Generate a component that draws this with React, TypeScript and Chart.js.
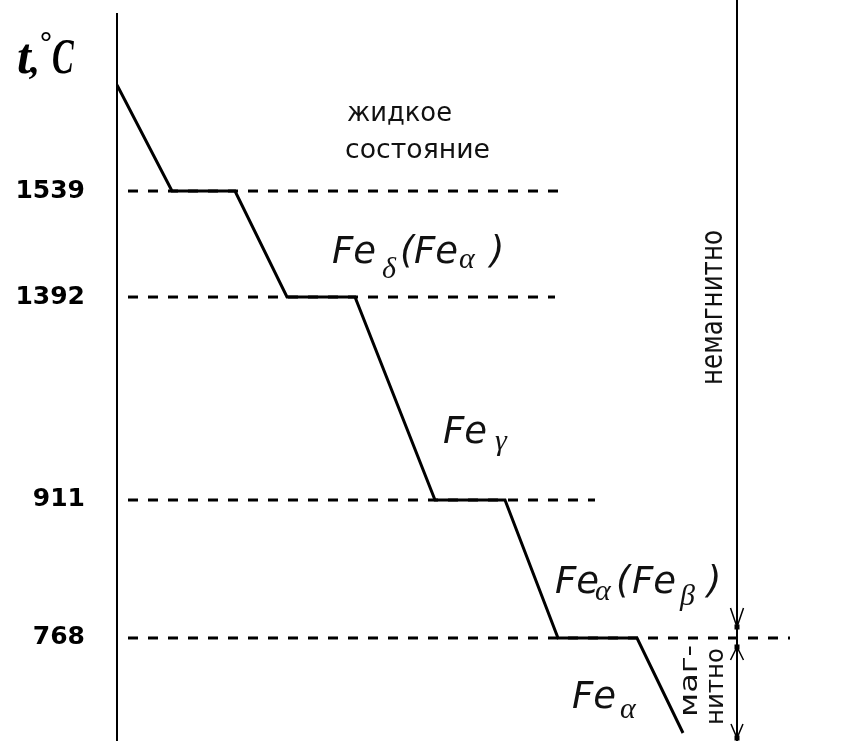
import React, { useEffect, useRef } from "react";
import { Chart, registerables, LinearScale } from "chart.js";

// ---- data (cooling curve of pure iron, schematic) ----
const tempTicks = [1539, 1392, 911, 768];
const curveTimes = [0, 5.5, 11.8, 17.0, 23.8, 31.8, 38.8, 44.1, 52.0, 56.6];
const curveTemps = [1650, 1539, 1539, 1392, 1392, 911, 911, 768, 768, 700];
const guideStart = 1.1;
const guideEnds = [44.3, 43.8, 47.8, 67.3];
const boundaryTime = 62.0;
const boundaryTemps = [1800, 600];

// schematic (non-proportional) vertical placement of temperatures
const scaleTemps = [1650, 1539, 1392, 911, 768, 700];
const scaleFracs = [0.0977, 0.2435, 0.3893, 0.6685, 0.8583, 0.989];

function tempToFrac(v: number) {
  const n = scaleTemps.length;
  let i = 0;
  if (v >= scaleTemps[0]) i = 0;
  else if (v <= scaleTemps[n - 1]) i = n - 2;
  else {
    for (i = 0; i < n - 1; i++) if (v <= scaleTemps[i] && v >= scaleTemps[i + 1]) break;
  }
  const t0 = scaleTemps[i], t1 = scaleTemps[i + 1];
  const f0 = scaleFracs[i], f1 = scaleFracs[i + 1];
  return f0 + ((v - t0) / (t1 - t0)) * (f1 - f0);
}
function fracToTemp(f: number) {
  const n = scaleFracs.length;
  let i = 0;
  if (f <= scaleFracs[0]) i = 0;
  else if (f >= scaleFracs[n - 1]) i = n - 2;
  else {
    for (i = 0; i < n - 1; i++) if (f >= scaleFracs[i] && f <= scaleFracs[i + 1]) break;
  }
  const t0 = scaleTemps[i], t1 = scaleTemps[i + 1];
  const f0 = scaleFracs[i], f1 = scaleFracs[i + 1];
  return t0 + ((f - f0) / (f1 - f0)) * (t1 - t0);
}

class SchematicScale extends LinearScale {
  static id = "schematic";
  getPixelForValue(value: any) {
    if (value === null || value === undefined || isNaN(value)) return NaN;
    return this.top + tempToFrac(+value) * (this.bottom - this.top);
  }
  getValueForPixel(pixel: number) {
    return fracToTemp((pixel - this.top) / (this.bottom - this.top));
  }
}

Chart.register(...registerables, SchematicScale);

// ---- annotations ----
const mainFont = 'italic 37px "DejaVu Sans"';
const subFont = 'italic 30px "Liberation Serif"';
type Part = [string, number, number, "m" | "s"];
const phaseLabels: { x: number; y: number; parts: Part[] }[] = [
  { x: 21.5, y: 1439, parts: [["Fe", 0, 0, "m"], ["δ", 50, 15, "s"], ["(", 68, 0, "m"], ["Fe", 82, 0, "m"], ["α", 127, 5, "s"], [")", 158, 0, "m"]] },
  { x: 32.6, y: 1046, parts: [["Fe", 0, 0, "m"], ["γ", 52, 7, "s"]] },
  { x: 43.8, y: 815, parts: [["Fe", 0, 0, "m"], ["α", 40, 7, "s"], ["(", 61, 0, "m"], ["Fe", 77, 0, "m"], ["β", 125, 12, "s"], [")", 152, 0, "m"]] },
  { x: 45.5, y: 718, parts: [["Fe", 0, 0, "m"], ["α", 48, 10, "s"]] },
];
const plainLabels = [
  { text: "жидкое", x: 23.0, y: 1612, w: 105, font: '26px "DejaVu Sans"', rot: 0 },
  { text: "состояние", x: 22.8, y: 1574, w: 145, font: '26px "DejaVu Sans"', rot: 0 },
  { text: "немагнитно", x: 60.5, y: 1183.5, w: 155, font: '30px "DejaVu Sans"', rot: -Math.PI / 2 },
  { text: "маг-", x: 58.0, y: 711.5, w: 72, font: '25px "DejaVu Sans"', rot: -Math.PI / 2 },
  { text: "нитно", x: 60.6, y: 705.7, w: 77, font: '25px "DejaVu Sans"', rot: -Math.PI / 2 },
];

const annotPlugin = {
  id: "annot",
  afterDatasetsDraw(chart: any) {
    const { ctx, scales, chartArea } = chart;
    const xs = scales.x, ys = scales.y;
    ctx.save();
    ctx.fillStyle = "#111";
    ctx.strokeStyle = "#000";
    ctx.textBaseline = "alphabetic";
    ctx.textAlign = "left";

    // phase labels
    for (const lab of phaseLabels) {
      const px = xs.getPixelForValue(lab.x);
      const py = ys.getPixelForValue(lab.y);
      for (const [t, dx, dy, f] of lab.parts) {
        ctx.font = f === "m" ? mainFont : subFont;
        ctx.fillText(t, px + dx, py + dy);
      }
    }
    // plain labels (fit to width)
    for (const lab of plainLabels) {
      const px = xs.getPixelForValue(lab.x);
      const py = ys.getPixelForValue(lab.y);
      ctx.font = lab.font;
      const m = ctx.measureText(lab.text).width;
      ctx.save();
      ctx.translate(px, py);
      ctx.rotate(lab.rot);
      ctx.scale(lab.w / m, 1);
      ctx.fillText(lab.text, 0, 0);
      ctx.restore();
    }

    // title t,°C
    ctx.fillStyle = "#000";
    ctx.font = 'bold italic 50px "Liberation Serif"';
    ctx.fillText("t", 17, 73);
    ctx.font = 'bold italic 40px "Liberation Serif"';
    ctx.fillText(",", 30, 73);
    ctx.font = 'bold 30px "Liberation Serif"';
    ctx.fillText("°", 40, 52);
    ctx.save();
    ctx.translate(52, 73);
    ctx.scale(0.65, 1);
    ctx.font = 'bold italic 50px "Liberation Serif"';
    ctx.fillText("C", 0, 0);
    ctx.restore();

    // arrows on the magnetic boundary
    const bx = xs.getPixelForValue(boundaryTime);
    const p768 = ys.getPixelForValue(tempTicks[3]);
    ctx.lineWidth = 1.5;
    const arrow = (tx: number, ty: number, dir: number, len: number, half: number) => {
      ctx.beginPath();
      ctx.moveTo(tx - half, ty + dir * len);
      ctx.lineTo(tx, ty);
      ctx.lineTo(tx + half, ty + dir * len);
      ctx.stroke();
      ctx.fillRect(tx - 2.5, ty - 2.5, 5, 5);
    };
    arrow(bx, p768 - 11, -1, 19, 6.5);
    arrow(bx, p768 + 9, 1, 13, 6.5);
    arrow(bx, chartArea.bottom - 3, -1, 14, 6);
    ctx.restore();
  },
};

export default function App() {
  const ref = useRef<HTMLCanvasElement | null>(null);
  useEffect(() => {
    document.body.style.margin = "0";
    const canvas = ref.current!;
    const chart = new Chart(canvas, {
      type: "line",
      data: {
        datasets: [
          {
            label: "curve",
            data: curveTimes.map((t, i) => ({ x: t, y: curveTemps[i] })),
            borderColor: "#000",
            borderWidth: 3,
            pointRadius: 0,
            fill: false,
            tension: 0,
          },
          ...tempTicks.map((T, i) => ({
            label: "guide " + T,
            data: [
              { x: guideStart, y: T },
              { x: guideEnds[i], y: T },
            ],
            borderColor: "#000",
            borderWidth: 3,
            borderDash: [10, 10],
            pointRadius: 0,
            fill: false,
          })),
          {
            label: "boundary",
            data: boundaryTemps.map((T) => ({ x: boundaryTime, y: T })),
            borderColor: "#000",
            borderWidth: 2,
            pointRadius: 0,
            fill: false,
            clip: false,
          },
        ] as any,
      },
      options: {
        animation: false,
        responsive: false,
        layout: { padding: { top: 14, left: 0, right: 0, bottom: 0 } },
        plugins: { legend: { display: false }, tooltip: { enabled: false } },
        scales: {
          x: { type: "linear", min: 0, max: 73.3, display: false },
          y: {
            type: "schematic" as any,
            position: "left",
            min: 700,
            max: 1650,
            grid: { display: false, drawTicks: false },
            border: { display: true, color: "#000", width: 2 },
            afterBuildTicks: (s: any) => {
              s.ticks = tempTicks.map((v) => ({ value: v }));
            },
            afterFit: (s: any) => {
              s.width = 117;
              s.paddingTop = 0;
              s.paddingBottom = 0;
            },
            ticks: {
              callback: (v: any) => String(v),
              color: "#000",
              font: { family: "DejaVu Sans", size: 25, weight: "bold" },
              padding: 32,
              autoSkip: false,
            },
          } as any,
        },
      },
      plugins: [annotPlugin],
    });
    return () => chart.destroy();
  }, []);
  return (
    <div style={{ width: 850, height: 741, background: "#fff" }}>
      <canvas ref={ref} width={850} height={741} style={{ display: "block" }} />
    </div>
  );
}
